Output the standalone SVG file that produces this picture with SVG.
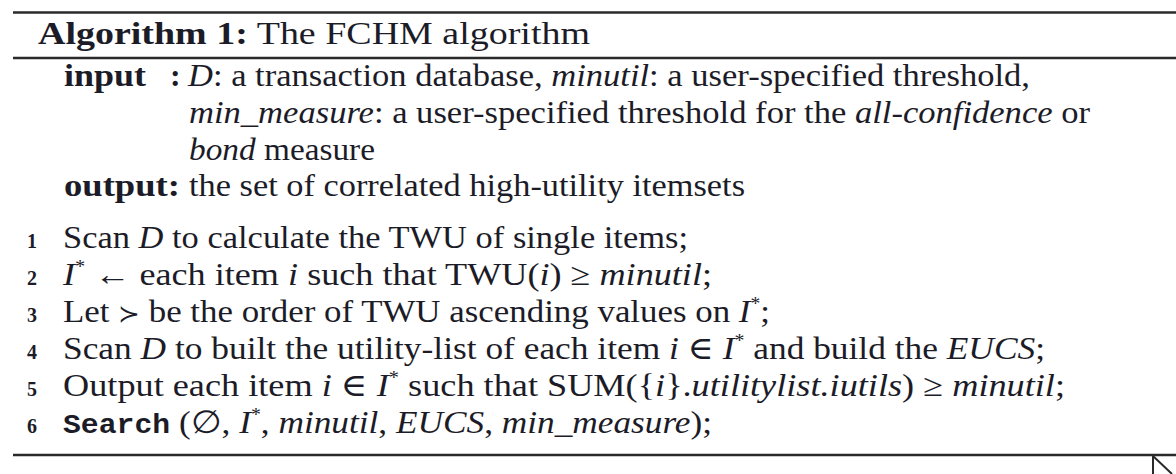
<svg xmlns="http://www.w3.org/2000/svg" width="1176" height="474" viewBox="0 0 1176 474">
<style>
.t{font-family:"Liberation Serif","DejaVu Serif",serif;font-size:32px;fill:#1c1c28}
.b{font-weight:bold}
.i{font-style:italic}
.n{font-family:"Liberation Serif","DejaVu Serif",serif;font-size:20px;font-weight:bold;fill:#1c1c28}
.m{font-family:"Liberation Mono","DejaVu Sans Mono",monospace;font-weight:bold;font-size:27px}
.s{font-size:18px}
.rule{stroke:#2a2a2a;stroke-width:2.5;fill:none}
</style>
<g id="rules">
<line class="rule" x1="13" y1="12.5" x2="1176" y2="12.5"/>
<line class="rule" x1="13" y1="58" x2="1176" y2="58"/>
<line class="rule" x1="13" y1="455" x2="1176" y2="455"/>
</g>
<g id="title">
<text class="t" x="38" y="44" textLength="552" lengthAdjust="spacingAndGlyphs"><tspan class="b">Algorithm 1:</tspan> The FCHM algorithm</text>
</g>
<g id="io">
<text class="t b" x="64" y="86" textLength="82" lengthAdjust="spacingAndGlyphs">input</text>
<text class="t b" x="170" y="86">:</text>
<text class="t" x="188" y="86" textLength="842" lengthAdjust="spacingAndGlyphs"><tspan class="i">D</tspan>: a transaction database, <tspan class="i">minutil</tspan>: a user-specified threshold,</text>
<text class="t" x="189" y="123" textLength="901" lengthAdjust="spacingAndGlyphs"><tspan class="i">min_measure</tspan>: a user-specified threshold for the <tspan class="i">all-confidence</tspan> or</text>
<text class="t" x="189" y="160" textLength="186" lengthAdjust="spacingAndGlyphs"><tspan class="i">bond</tspan> measure</text>
<text class="t b" x="64" y="196" textLength="116" lengthAdjust="spacingAndGlyphs">output:</text>
<text class="t" x="189" y="196" textLength="556" lengthAdjust="spacingAndGlyphs">the set of correlated high-utility itemsets</text>
</g>
<g id="steps">
<text class="n" x="27" y="248">1</text>
<text class="t" x="63" y="248" textLength="625" lengthAdjust="spacingAndGlyphs">Scan <tspan class="i">D</tspan> to calculate the TWU of single items;</text>
<text class="n" x="27" y="285">2</text>
<text class="t" x="63" y="285" textLength="649" lengthAdjust="spacingAndGlyphs"><tspan class="i">I</tspan><tspan class="s" dy="-12">*</tspan><tspan dy="12"> ← each item </tspan><tspan class="i">i</tspan> such that TWU(<tspan class="i">i</tspan>) ≥ <tspan class="i">minutil</tspan>;</text>
<text class="n" x="27" y="322">3</text>
<text class="t" x="63" y="322" textLength="707" lengthAdjust="spacingAndGlyphs">Let <tspan font-family="DejaVu Serif" font-size="24px">≻</tspan> be the order of TWU ascending values on <tspan class="i">I</tspan><tspan class="s" dy="-12">*</tspan><tspan dy="12">;</tspan></text>
<text class="n" x="27" y="359">4</text>
<text class="t" x="63" y="359" textLength="982" lengthAdjust="spacingAndGlyphs">Scan <tspan class="i">D</tspan> to built the utility-list of each item <tspan class="i">i</tspan> ∈ <tspan class="i">I</tspan><tspan class="s" dy="-12">*</tspan><tspan dy="12"> and build the </tspan><tspan class="i">EUCS</tspan>;</text>
<text class="n" x="27" y="396">5</text>
<text class="t" x="63" y="396" textLength="1002" lengthAdjust="spacingAndGlyphs">Output each item <tspan class="i">i</tspan> ∈ <tspan class="i">I</tspan><tspan class="s" dy="-12">*</tspan><tspan dy="12"> such that SUM({</tspan><tspan class="i">i</tspan>}.<tspan class="i">utilitylist.iutils</tspan>) ≥ <tspan class="i">minutil</tspan>;</text>
<text class="n" x="27" y="433">6</text>
<text class="t" x="63" y="433" textLength="649" lengthAdjust="spacingAndGlyphs"><tspan class="m">Search</tspan> (∅, <tspan class="i">I</tspan><tspan class="s" dy="-12">*</tspan><tspan dy="12">, </tspan><tspan class="i">minutil</tspan>, <tspan class="i">EUCS</tspan>, <tspan class="i">min_measure</tspan>);</text>
</g>
<g id="cursor">
<path d="M1153,455 L1153,474 M1153,456 L1172,474" stroke="#2a2a2a" stroke-width="2" fill="none"/>
</g>
</svg>
